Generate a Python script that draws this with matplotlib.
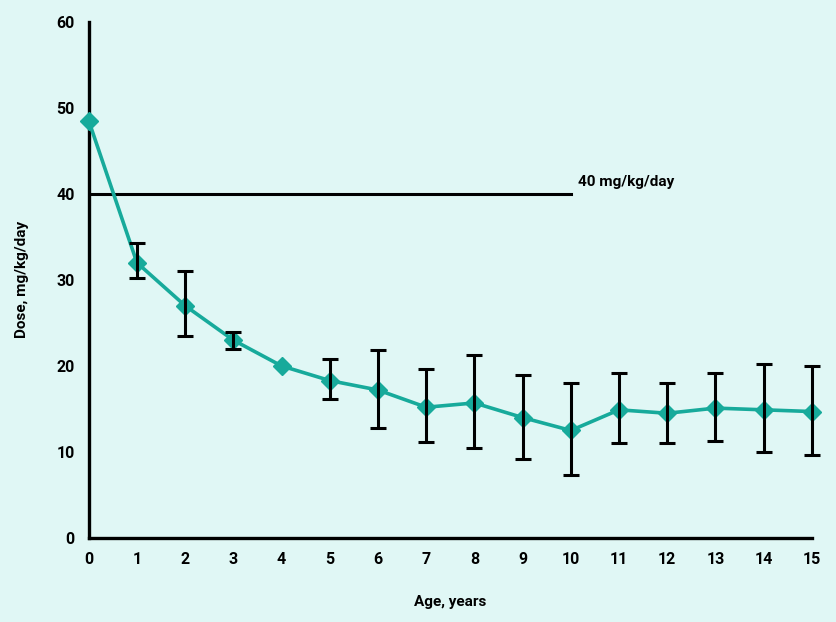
import numpy as np
import matplotlib
matplotlib.use("Agg")
import matplotlib.pyplot as plt

# --- data -------------------------------------------------------------------
AGE = list(range(16))
DOSE = [48.5, 32.0, 27.0, 23.0, 20.0, 18.3, 17.2, 15.2, 15.7, 14.0,
        12.5, 14.9, 14.5, 15.1, 14.9, 14.7]
LOWER = [None, 30.2, 23.5, 22.0, None, 16.2, 12.8, 11.2, 10.5, 9.2,
         7.3, 11.1, 11.0, 11.3, 10.0, 9.6]
UPPER = [None, 34.3, 31.0, 24.0, None, 20.8, 21.9, 19.7, 21.3, 18.9,
         18.0, 19.2, 18.0, 19.2, 20.2, 20.0]
REF_DOSE = 40
REF_END = 10
REF_LABEL = "40 mg/kg/day"

BG = "#e0f7f5"
TEAL = "#17aa9b"

plt.rcParams["font.family"] = ["Roboto", "DejaVu Sans"]
plt.rcParams["font.weight"] = "bold"

fig = plt.figure(figsize=(8.37, 6.22), dpi=100, facecolor=BG)
ax = fig.add_axes([0.106, 0.135, 0.864, 0.83], facecolor=BG)

ax.plot(AGE, DOSE, color=TEAL, lw=2.6, marker="D", ms=9, mec=TEAL, mfc=TEAL,
        clip_on=False, zorder=3)

idx = [i for i, lo in enumerate(LOWER) if lo is not None]
x_err = np.array([AGE[i] for i in idx])
y_err = np.array([DOSE[i] for i in idx])
lo = np.array([LOWER[i] for i in idx])
hi = np.array([UPPER[i] for i in idx])
eb = ax.errorbar(x_err, y_err, yerr=[y_err - lo, hi - y_err], fmt="none",
                 ecolor="black", elinewidth=2.2, capsize=6, capthick=2.2, zorder=4)
for art in eb.lines[1] + eb.lines[2]:
    art.set_clip_on(False)

ax.plot([0, REF_END], [REF_DOSE, REF_DOSE], color="black", lw=2.2, zorder=2)
ax.text(REF_END + 0.15, REF_DOSE + 0.6, REF_LABEL, fontsize=11,
        fontweight="bold", va="bottom", ha="left")

ax.set_xlim(0, 15)
ax.set_ylim(0, 60)
ax.set_xticks(AGE)
ax.set_yticks(range(0, 61, 10))
ax.tick_params(length=0, labelsize=11.5, pad=10)
for lab in ax.get_xticklabels() + ax.get_yticklabels():
    lab.set_fontweight("bold")
for s in ("top", "right"):
    ax.spines[s].set_visible(False)
for s in ("left", "bottom"):
    ax.spines[s].set_linewidth(2.4)
ax.set_xlabel("Age, years", fontsize=11, fontweight="bold", labelpad=20)
ax.set_ylabel("Dose, mg/kg/day", fontsize=11, fontweight="bold", labelpad=20)

fig.savefig("out.png", dpi=100, facecolor=BG)
